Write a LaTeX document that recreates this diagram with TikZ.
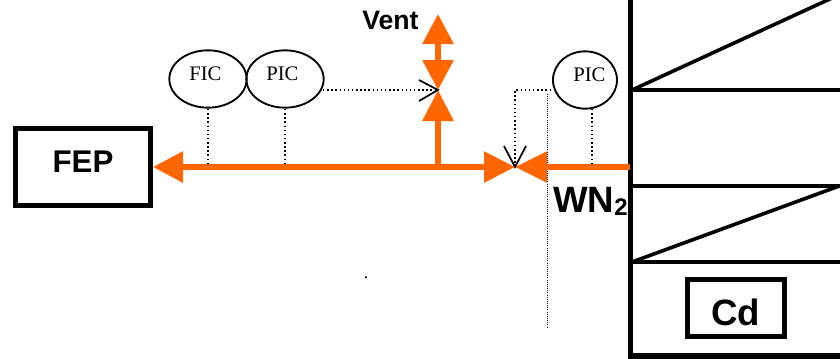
\documentclass[tikz,border=0pt]{standalone}
\usepackage{fontspec}
\setmainfont{Liberation Serif}
\newfontfamily\arialfont{Liberation Sans}
\usetikzlibrary{arrows.meta,shapes.geometric}
\definecolor{pipeorange}{HTML}{FF6600}
\tikzset{
  x=0.75pt,y=-0.75pt,
  pipe/.style={draw=pipeorange,line width=4.5pt},
  head/.style={pipe,-{Triangle[length=#1*0.75pt,width=22.5pt,fill=pipeorange]}},
  head/.default=30,
  tag/.style={ellipse,draw=black,line width=1.4pt,inner sep=0pt},
  tagtext/.style={anchor=base west,inner sep=0pt,font=\fontsize{15.5pt}{18pt}\selectfont,text=black},
  signal/.style={draw=black,line width=1.1pt,dotted},
  thinsignal/.style={draw=black,line width=0.6pt,densely dotted},
  chevron/.style={draw=black,line width=1.3pt,line join=miter},
  heavybox/.style={draw=black,line width=3.75pt,fill=white,inner sep=0pt},
  wall/.style={draw=black,line width=4.1pt},
  shelf/.style={draw=black,line width=2.7pt},
  boldtext/.style={anchor=base west,inner sep=0pt,font=\arialfont\bfseries},
}
\begin{document}
\begin{tikzpicture}
\useasboundingbox (0,0) rectangle (840,358);
\clip (0,0) rectangle (840,358);

% Column
\coordinate (walltop) at (630.5,-6);
\coordinate (wallbot) at (630.5,356);
\coordinate (wallpipe) at (630,167);
\coordinate (cornerbr) at (846,356);
\coordinate (s1l) at (632,90);  \coordinate (s1r) at (846,90);
\coordinate (s2l) at (632,186); \coordinate (s2r) at (846,186);
\coordinate (s3l) at (632,262); \coordinate (s3r) at (846,262);
\coordinate (d1) at (832,-2);
\coordinate (d2) at (842,185);
\draw[shelf] (s1l) -- (s1r);
\draw[shelf] (s2l) -- (s2r);
\draw[shelf] (s3l) -- (s3r);
\draw[shelf] (s1l) -- (d1);
\draw[shelf] (s3l) -- (d2);
\draw[wall] (walltop) -- (wallbot) -- (cornerbr);

% Boxes
\node[heavybox,minimum width=101.25pt,minimum height=57.75pt] (fep) at (83,167) {};
\node[boldtext,font=\arialfont\bfseries\fontsize{23.5pt}{26pt}\selectfont,anchor=base] (feptext) at (83,172) {FEP};
\node[heavybox,minimum width=72.75pt,minimum height=42.75pt] (cd) at (736,308) {};
\node[boldtext,font=\arialfont\bfseries\fontsize{27.5pt}{30pt}\selectfont,anchor=base] (cdtext) at (735.5,325) {Cd};

% Instruments
\node[tag,minimum width=58pt,minimum height=43pt] (fic) at (208,79) {};
\node[tag,minimum width=58pt,minimum height=43pt] (pica) at (285,79) {};
\node[tag,minimum width=48pt,minimum height=43pt] (picb) at (585,80) {};
\node[tagtext] (fict) at (189,80) {FIC};
\node[tagtext] (picat) at (266,80) {PIC};
\node[tagtext] (picbt) at (573,81) {PIC};

% Pipe points
\coordinate (junc) at (438,167);
\coordinate (valve) at (515,167);
\coordinate (vvalve) at (438,90);
\coordinate (vtop) at (438,14);
\coordinate (vmid) at (438,60);
\coordinate (vstub) at (438,46);
\coordinate (ficp) at (208,165);
\coordinate (picap) at (285,165);
\coordinate (picbp) at (592,165);

% Signals
\draw[signal] (fic.south |- 0,109) -- (ficp);
\draw[signal] (pica.south |- 0,109) -- (picap);
\draw[signal] (592,109) -- (picbp);
\coordinate (sigb) at (551,90);
\coordinate (sigc) at (515,90);
\coordinate (sigd) at (547,94);
\coordinate (sige) at (547,328);
\draw[signal] (323,90) -- (vvalve);
\draw[signal] (sigb) -- (sigc) -- (valve);
\draw[thinsignal] (sigd) -- (sige);

% Pipes
\draw[head] (junc) -- (fep.east);
\draw[pipe] (junc) -- (490,167);
\draw[head=31] (480,167) -- (valve);
\draw[head=32] (wallpipe) -- (valve);
\draw[head=31] (junc) -- (vvalve);
\draw[head] (vmid) -- (vtop);
\draw[head] (vstub) -- (vvalve);

% Valve stems
\draw[chevron] (vvalve) ++(-19,-10) -- (vvalve) -- ++(-19,11);
\draw[chevron] (valve) ++(-11,-21) -- (valve) -- ++(11,-21);

% Labels
\node[boldtext,font=\arialfont\bfseries\fontsize{20pt}{22pt}\selectfont] (vent) at (362,29) {Vent};
\node[boldtext,font=\arialfont\bfseries\fontsize{27.5pt}{30pt}\selectfont] (wn) at (553,212) {WN\raisebox{-2.5pt}{\fontsize{18pt}{18pt}\selectfont 2}};
\node[anchor=base,inner sep=0pt,font=\fontsize{13pt}{14pt}\selectfont] (dot) at (366,278) {.};
\end{tikzpicture}
\end{document}
